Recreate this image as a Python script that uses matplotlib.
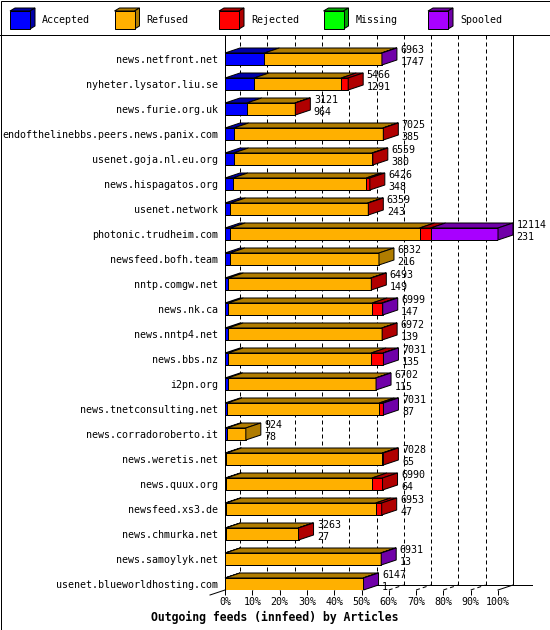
import matplotlib
matplotlib.use("Agg")
import matplotlib.pyplot as plt
from matplotlib.patches import Polygon, Rectangle
from matplotlib.transforms import offset_copy

# ---------------- data ----------------
hosts = ["news.netfront.net", "nyheter.lysator.liu.se", "news.furie.org.uk",
         "endofthelinebbs.peers.news.panix.com", "usenet.goja.nl.eu.org",
         "news.hispagatos.org", "usenet.network", "photonic.trudheim.com",
         "newsfeed.bofh.team", "nntp.comgw.net", "news.nk.ca", "news.nntp4.net",
         "news.bbs.nz", "i2pn.org", "news.tnetconsulting.net",
         "news.corradoroberto.it", "news.weretis.net", "news.quux.org",
         "newsfeed.xs3.de", "news.chmurka.net", "news.samoylyk.net",
         "usenet.blueworldhosting.com"]
offered = [6963, 5466, 3121, 7025, 6559, 6426, 6359, 12114, 6832, 6493, 6999,
           6972, 7031, 6702, 7031, 924, 7028, 6990, 6953, 3263, 6931, 6147]
accepted = [1747, 1291, 964, 385, 380, 348, 243, 231, 216, 149, 147,
            139, 135, 115, 87, 78, 65, 64, 47, 27, 13, 1]
refused = [5201, 3865, 2137, 6620, 6139, 5918, 6086, 8403, 6616, 6314, 6382,
           6818, 6346, 6567, 6754, 846, 6913, 6456, 6636, 3216, 6898, 6126]
rejected = [0, 310, 20, 20, 40, 160, 30, 490, 0, 30, 430,
            15, 530, 0, 170, 0, 50, 470, 270, 20, 0, 0]
missing = [0] * 22
spooled = [15, 0, 0, 0, 0, 0, 0, 2990, 0, 0, 40,
           0, 20, 20, 20, 0, 0, 0, 0, 0, 20, 20]

series_names = ["Accepted", "Refused", "Rejected", "Missing", "Spooled"]
series = [accepted, refused, rejected, missing, spooled]
front_cols = ["#0000ff", "#ffb000", "#ff0000", "#00ff00", "#a800ff"]
dark_cols = ["#0000a8", "#b07c00", "#b00000", "#00a800", "#7000a8"]
x_ticks = list(range(0, 101, 10))
title = "Outgoing feeds (innfeed) by Articles"

# ---------------- layout ----------------
W, H, DPI = 550, 630, 100
fig = plt.figure(figsize=(W / DPI, H / DPI), dpi=DPI)
fig.patch.set_facecolor("white")
MONO = "DejaVu Sans Mono"
FS = 7.2
LW = 0.72

# overlay axes in pixel coords for frame / legend / title
ov = fig.add_axes([0, 0, 1, 1], zorder=0)
ov.set_xlim(0, W)
ov.set_ylim(H, 0)
ov.axis("off")
ov.add_patch(Rectangle((0.5, 0.5), W - 1, H - 1, fill=False, ec="black", lw=LW))
ov.plot([0, W], [35, 35], color="black", lw=LW)

for k, (nm, fc, dc) in enumerate(zip(series_names, front_cols, dark_cols)):
    x0 = 10 + 104.5 * k
    ov.add_patch(Polygon([(x0, 11), (x0 + 20, 11), (x0 + 25, 8), (x0 + 5, 8)],
                         closed=True, fc=dc, ec="black", lw=LW))
    ov.add_patch(Polygon([(x0 + 20, 11), (x0 + 25, 8), (x0 + 25, 26), (x0 + 20, 29)],
                         closed=True, fc=dc, ec="black", lw=LW))
    ov.add_patch(Rectangle((x0, 11), 20, 18, fc=fc, ec="black", lw=LW))
    ov.text(x0 + 32, 20, nm, family=MONO, fontsize=FS, va="center", ha="left")

ov.text(274.5, 617, title, family=MONO, fontsize=8.3, fontweight="bold",
        ha="center", va="center")

# chart axes: x 0..100 maps px 225..498, rows centred at px 59+25i
AX_L, AX_R, AX_T, AX_B = 225, 498, 35, 590
ax = fig.add_axes([AX_L / W, 1 - AX_B / H, (AX_R - AX_L) / W, (AX_B - AX_T) / H],
                  zorder=1)
ax.patch.set_visible(False)
ROW0, ROWSTEP = 59, 25
y_bottom = (AX_B - ROW0) / ROWSTEP
y_top = (AX_T - ROW0) / ROWSTEP
ax.set_xlim(0, 100)
ax.set_ylim(y_bottom, y_top)

px_x = (AX_R - AX_L) / 100.0       # pixels per x unit
DX = 15 / px_x                     # depth in x data units
DY = -5 / ROWSTEP                  # depth in row units (up)
BH = 12 / ROWSTEP                  # bar height in rows

maxv = max(offered)
n = len(hosts)

# back wall grid (dashed) and floor
dash = (0, (4, 3))
for t in x_ticks[:-1]:
    ax.plot([t + DX, t + DX], [y_top, y_bottom + DY], color="black", lw=LW,
            ls=dash, zorder=1, clip_on=False)
    ax.plot([t, t + DX], [y_bottom, y_bottom + DY], color="black", lw=LW,
            ls=dash, zorder=1, clip_on=False)
ax.plot([100 + DX, 100 + DX], [y_top, y_bottom + DY], color="black", lw=LW,
        zorder=1, clip_on=False)
ax.plot([DX, 100 + DX + 19 / px_x], [y_bottom + DY, y_bottom + DY],
        color="black", lw=LW, zorder=1, clip_on=False)
ax.plot([-DX, 0], [y_bottom - DY, y_bottom], color="black", lw=LW,
        zorder=1, clip_on=False)
ax.plot([100, 100 + DX], [y_bottom, y_bottom + DY], color="black", lw=LW,
        zorder=1, clip_on=False)

# bars
for i in range(n):
    left = 0.0
    segs = []
    for s in range(len(series)):
        v = series[s][i] / maxv * 100.0
        if v > 0:
            segs.append((left, left + v, s))
        left += v
    yt = i - BH / 2
    yb = i + BH / 2
    for (a, b, s) in segs:
        ax.barh(i, b - a, left=a, height=BH, color=front_cols[s],
                edgecolor="black", lw=LW, zorder=3)
        ax.add_patch(Polygon([(a, yt), (b, yt), (b + DX, yt + DY), (a + DX, yt + DY)],
                             closed=True, fc=dark_cols[s], ec="black", lw=LW,
                             zorder=3, clip_on=False))
    a, b, s = segs[-1]
    ax.add_patch(Polygon([(b, yt), (b + DX, yt + DY), (b + DX, yb + DY), (b, yb)],
                         closed=True, fc=dark_cols[s], ec="black", lw=LW,
                         zorder=3, clip_on=False))
    tr = offset_copy(ax.transData, fig=fig, x=18.5, y=3, units="dots")
    ax.text(offered[i] / maxv * 100.0, i, f"{offered[i]}\n{accepted[i]}",
            transform=tr, family=MONO, fontsize=FS, ha="left", va="center",
            linespacing=1.2, zorder=5, clip_on=False)

# axes styling
for sp in ["top", "right", "bottom"]:
    ax.spines[sp].set_visible(False)
ax.spines["left"].set_linewidth(LW)
ax.set_yticks(range(n))
ax.set_yticklabels(hosts, family=MONO, fontsize=FS)
ax.tick_params(axis="y", length=0, pad=5)
ax.set_xticks(x_ticks)
ax.set_xticklabels([f"{t}%" for t in x_ticks], family=MONO, fontsize=FS)
ax.tick_params(axis="x", direction="out", length=3.6, width=LW, pad=1.5)

fig.savefig("out.png", dpi=DPI)
